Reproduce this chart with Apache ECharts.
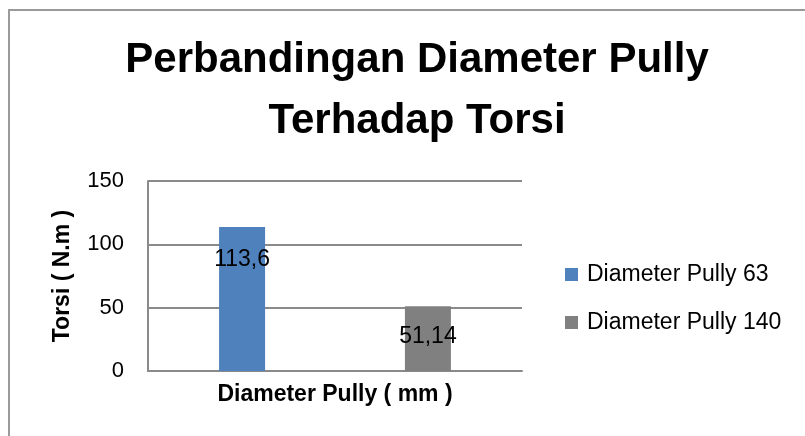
<!DOCTYPE html>
<html>
<head>
<meta charset="utf-8">
<script src="https://cdn.jsdelivr.net/npm/echarts@6/dist/echarts.min.js"></script>
<style>
    html, body { margin: 0; padding: 0; background: #fff; }
    #chart { width: 805px; height: 436px; }
</style>
</head>
<body>
<div id="chart"></div>
<script>
    // data
    var categories = [''];
    var seriesNames = ['Diameter Pully 63', 'Diameter Pully 140'];
    var pully63 = [113.6];
    var pully140 = [51.14];
    var yTicks = { min: 0, max: 150, interval: 50 };

    var font = 'Liberation Sans, Arial, sans-serif';
    var gridColor = '#8a8a8a';

    function commaLabel(p) {
        return String(p.value).replace('.', ',');
    }

    var chart = echarts.init(document.getElementById('chart'));
    var option = {
        backgroundColor: '#fff',
        animation: false,
        graphic: [
            {
                type: 'rect',
                silent: true,
                shape: { x: 9, y: 10, width: 1000, height: 1000 },
                style: { fill: 'none', stroke: '#9a9a9a', lineWidth: 2 }
            },
            {
                type: 'text',
                x: 417,
                y: 30,
                style: {
                    text: 'Perbandingan Diameter Pully\nTerhadap Torsi',
                    fontFamily: font,
                    fontWeight: 'bold',
                    fontSize: 42,
                    lineHeight: 61,
                    fill: '#000',
                    align: 'center',
                    verticalAlign: 'top'
                }
            }
        ],
        legend: {
            orient: 'vertical',
            left: 560,
            top: 258,
            itemWidth: 13,
            itemHeight: 13,
            itemGap: 25,
            icon: 'rect',
            textStyle: { fontFamily: font, fontSize: 23, color: '#000', padding: [0, 0, 0, 4] },
            data: seriesNames
        },
        grid: { left: 148, right: 283, top: 181, bottom: 65 },
        xAxis: {
            type: 'category',
            data: categories,
            name: 'Diameter Pully ( mm )',
            nameLocation: 'middle',
            nameGap: 12,
            nameTextStyle: { fontFamily: font, fontWeight: 'bold', fontSize: 23, color: '#000' },
            axisLine: { lineStyle: { color: gridColor, width: 2 } },
            axisTick: { show: false },
            axisLabel: { show: false }
        },
        yAxis: {
            type: 'value',
            min: yTicks.min,
            max: yTicks.max,
            interval: yTicks.interval,
            name: 'Torsi ( N.m )',
            nameLocation: 'middle',
            nameGap: 74,
            nameTextStyle: { fontFamily: font, fontWeight: 'bold', fontSize: 23, color: '#000' },
            axisLine: { show: true, lineStyle: { color: gridColor, width: 2 } },
            axisTick: { show: false },
            axisLabel: { fontFamily: font, fontSize: 22, color: '#000', margin: 24 },
            splitLine: { lineStyle: { color: gridColor, width: 2 } }
        },
        series: [
            {
                name: seriesNames[0],
                type: 'bar',
                data: pully63,
                barWidth: 46,
                barGap: '304%',
                itemStyle: { color: '#4f81bd' },
                label: {
                    show: true, position: 'insideTop', distance: 21,
                    fontFamily: font, fontSize: 23, color: '#000',
                    formatter: commaLabel
                }
            },
            {
                name: seriesNames[1],
                type: 'bar',
                data: pully140,
                barWidth: 46,
                itemStyle: { color: '#808080' },
                label: {
                    show: true, position: 'insideTop', distance: 19,
                    fontFamily: font, fontSize: 23, color: '#000',
                    formatter: commaLabel
                }
            }
        ]
    };
    chart.setOption(option);
    window.addEventListener('resize', function () {
        chart.resize();
    });
</script>
</body>
</html>
